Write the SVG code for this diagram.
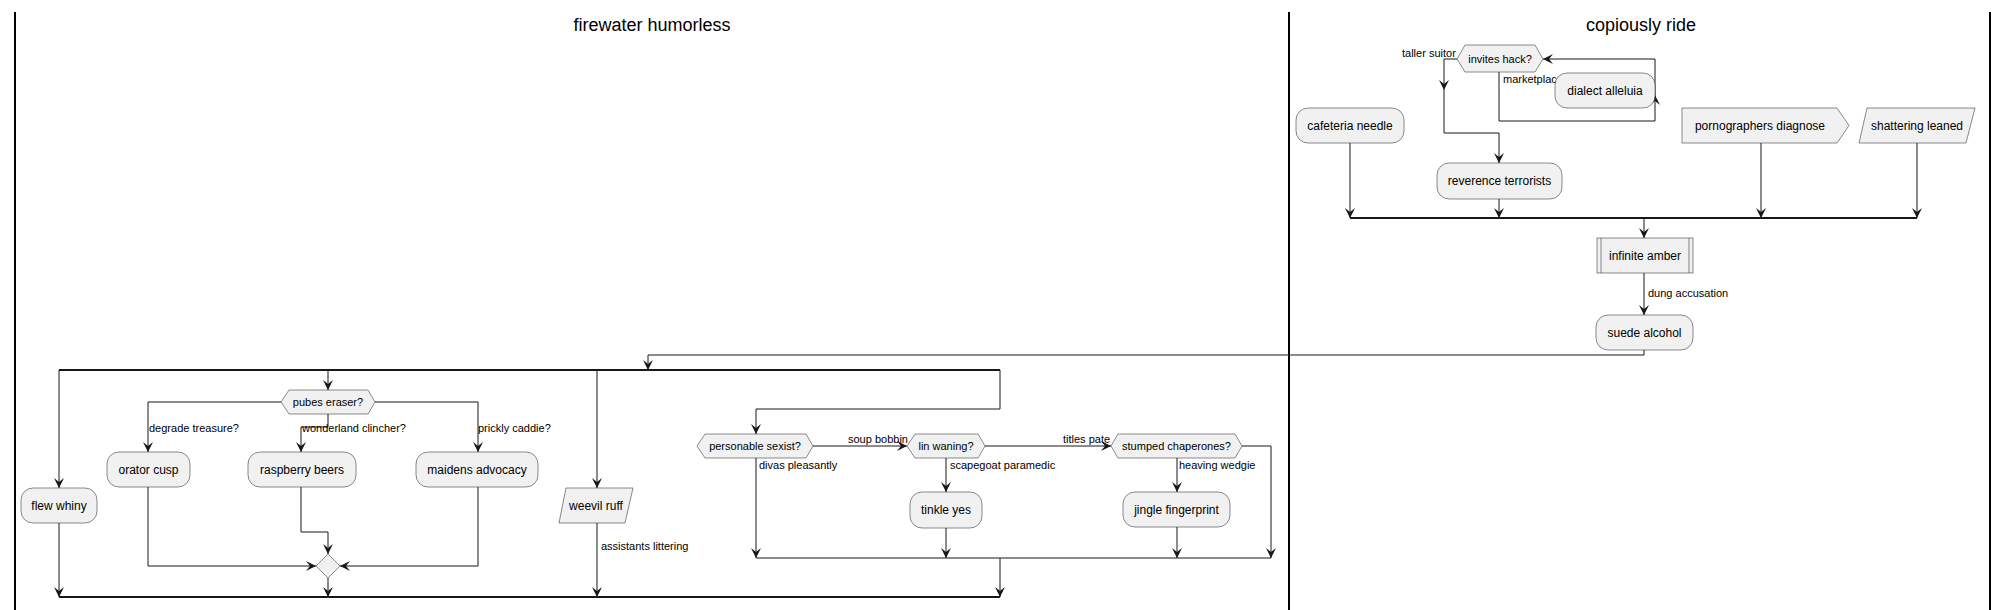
<svg xmlns="http://www.w3.org/2000/svg" width="2008" height="610" viewBox="0 0 2008 610">
<style>
text{font-family:"Liberation Sans",Arial,sans-serif;fill:#000}
.t{font-size:12px;text-anchor:middle}
.h{font-size:11px;text-anchor:middle}
.l{font-size:11px}
.ti{font-size:18px;text-anchor:middle}
.n{fill:#F1F1F1;stroke:#181818;stroke-width:0.5}
.c{fill:none;stroke:#181818;stroke-width:1}
.a{marker-end:url(#ah)}
.bar{stroke:#181818;stroke-width:2.2}
.lane{stroke:#000;stroke-width:2}
</style>
<defs>
<marker id="ah" markerUnits="userSpaceOnUse" viewBox="0 0 10 10" refX="10" refY="5" markerWidth="10" markerHeight="10" orient="auto">
<path d="M0,0 L10,5 L0,10 L4,5 Z" fill="#181818"/>
</marker>
</defs>
<rect width="2008" height="610" fill="#fff"/>
<g id="lanes">
<line class="lane" x1="15" y1="12" x2="15" y2="610"/>
<line class="lane" x1="1289" y1="12" x2="1289" y2="610"/>
<line class="lane" x1="1990" y1="12" x2="1990" y2="610"/>
<text class="ti" x="652" y="31">firewater humorless</text>
<text class="ti" x="1641" y="31">copiously ride</text>
</g>
<g id="connectors">
<path class="c a" d="M1457,59 H1444 V90"/>
<path class="c a" d="M1444,90 V133 H1499 V163"/>
<path class="c a" d="M1499,72 V121 H1655 V95"/>
<path class="c a" d="M1655,95 V59 H1543"/>
<path class="c a" d="M1350,143 V218"/>
<path class="c a" d="M1499,199 V218"/>
<path class="c a" d="M1761,143 V218"/>
<path class="c a" d="M1917,143 V218"/>
<line class="bar" x1="1350" y1="218" x2="1917" y2="218"/>
<path class="c a" d="M1644,218 V238"/>
<path class="c a" d="M1644,273 V315"/>
<path class="c a" d="M1644,350 V355 H648 V370"/>
<line class="bar" x1="59" y1="370" x2="1000" y2="370"/>
<path class="c a" d="M59,370 V488"/>
<path class="c a" d="M328,370 V390"/>
<path class="c a" d="M281,402 H148 V452"/>
<path class="c a" d="M328,414 V427 H301 V452"/>
<path class="c a" d="M375,402 H478 V452"/>
<path class="c a" d="M148,487 V566 H316"/>
<path class="c a" d="M301,487 V532 H328 V554"/>
<path class="c a" d="M478,487 V566 H340"/>
<path class="c a" d="M328,578 V597"/>
<path class="c a" d="M59,523 V597"/>
<path class="c a" d="M597,370 V488"/>
<path class="c a" d="M597,523 V597"/>
<path class="c a" d="M1000,370 V409 H756 V434"/>
<path class="c a" d="M813,446 H907"/>
<path class="c a" d="M946,458 V492"/>
<path class="c a" d="M985,446 H1111"/>
<path class="c a" d="M1177,458 V492"/>
<path class="c a" d="M1242,446 H1271 V558"/>
<path class="c a" d="M756,458 V558"/>
<path class="c a" d="M946,528 V558"/>
<path class="c a" d="M1177,527 V558"/>
<path class="c" d="M756,558 H1271"/>
<path class="c a" d="M1000,558 V597"/>
<line class="bar" x1="59" y1="597" x2="1000" y2="597"/>
<text class="l" x="1402" y="57">taller suitor</text>
<text class="l" x="1503" y="83">marketplace</text>
<text class="l" x="1648" y="297">dung accusation</text>
<text class="l" x="149" y="432">degrade treasure?</text>
<text class="l" x="302" y="432">wonderland clincher?</text>
<text class="l" x="478" y="432">prickly caddie?</text>
<text class="l" x="601" y="550">assistants littering</text>
<text class="l" x="848" y="443">soup bobbin</text>
<text class="l" x="950" y="469">scapegoat paramedic</text>
<text class="l" x="1063" y="443">titles pate</text>
<text class="l" x="1179" y="469">heaving wedgie</text>
<text class="l" x="759" y="469">divas pleasantly</text>
</g>
<g id="invites-hack"><polygon class="n" points="1457,59 1465,45 1535,45 1543,59 1535,72 1465,72"/><text class="h" x="1500" y="63">invites hack?</text></g>
<g id="dialect-alleluia"><rect class="n" x="1555" y="73" width="100" height="35" rx="12"/><text class="t" x="1605" y="95">dialect alleluia</text></g>
<g id="cafeteria-needle"><rect class="n" x="1296" y="108" width="108" height="35" rx="12"/><text class="t" x="1350" y="130">cafeteria needle</text></g>
<g id="reverence-terrorists"><rect class="n" x="1437" y="163" width="125" height="36" rx="12"/><text class="t" x="1499.5" y="185">reverence terrorists</text></g>
<g id="pornographers-diagnose"><polygon class="n" points="1682,108 1837,108 1849,125.5 1837,143 1682,143"/><text class="t" x="1760" y="130">pornographers diagnose</text></g>
<g id="shattering-leaned"><polygon class="n" points="1867,108 1975,108 1966,143 1859,143"/><text class="t" x="1917" y="130">shattering leaned</text></g>
<g id="infinite-amber"><rect class="n" x="1597" y="238" width="96" height="35"/><line class="n" x1="1601" y1="238" x2="1601" y2="273"/><line class="n" x1="1689" y1="238" x2="1689" y2="273"/><text class="t" x="1645" y="260">infinite amber</text></g>
<g id="suede-alcohol"><rect class="n" x="1596" y="315" width="97" height="35" rx="12"/><text class="t" x="1644.5" y="337">suede alcohol</text></g>
<g id="flew-whiny"><rect class="n" x="21" y="488" width="76" height="35" rx="12"/><text class="t" x="59" y="510">flew whiny</text></g>
<g id="pubes-eraser"><polygon class="n" points="281,402 289,390 368,390 375,402 368,414 289,414"/><text class="h" x="328" y="406">pubes eraser?</text></g>
<g id="orator-cusp"><rect class="n" x="107" y="452" width="83" height="35" rx="12"/><text class="t" x="148.5" y="474">orator cusp</text></g>
<g id="raspberry-beers"><rect class="n" x="248" y="452" width="108" height="35" rx="12"/><text class="t" x="302" y="474">raspberry beers</text></g>
<g id="maidens-advocacy"><rect class="n" x="416" y="452" width="122" height="35" rx="12"/><text class="t" x="477" y="474">maidens advocacy</text></g>
<g id="merge"><polygon class="n" points="328,554 340,566 328,578 316,566"/></g>
<g id="weevil-ruff"><polygon class="n" points="566,488 633,488 625,523 559,523"/><text class="t" x="596" y="510">weevil ruff</text></g>
<g id="personable-sexist"><polygon class="n" points="697,446 705,434 806,434 813,446 806,458 705,458"/><text class="h" x="755" y="450">personable sexist?</text></g>
<g id="lin-waning"><polygon class="n" points="907,446 915,434 978,434 985,446 978,458 915,458"/><text class="h" x="946" y="450">lin waning?</text></g>
<g id="stumped-chaperones"><polygon class="n" points="1111,446 1118,434 1235,434 1242,446 1235,458 1118,458"/><text class="h" x="1176.5" y="450">stumped chaperones?</text></g>
<g id="tinkle-yes"><rect class="n" x="910" y="492" width="72" height="36" rx="12"/><text class="t" x="946" y="514">tinkle yes</text></g>
<g id="jingle-fingerprint"><rect class="n" x="1123" y="492" width="107" height="35" rx="12"/><text class="t" x="1176.5" y="514">jingle fingerprint</text></g>
</svg>
